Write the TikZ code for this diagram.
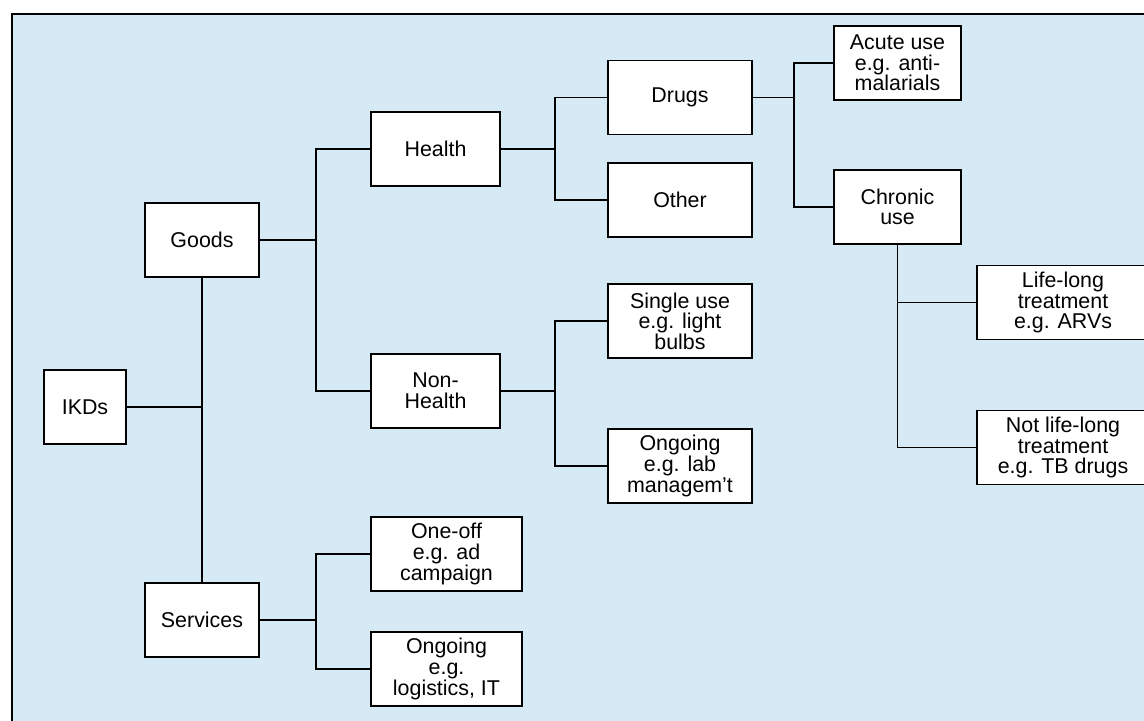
\documentclass[tikz,border=0pt]{standalone}
\usepackage{fontspec}
\setmainfont{Liberation Sans}
\usetikzlibrary{positioning}
\definecolor{panelblue}{RGB}{214,234,245}

\begin{document}
\begin{tikzpicture}
	[x=0.5pt,y=-0.5pt,
		treebox/.style={rectangle, draw=black, fill=white, line width=0.9pt, minimum height=37pt, align=center, inner sep=1pt, font=\fontsize{10.7}{10.3}\selectfont},
		smallbox/.style={treebox, minimum width=57pt},
		midbox/.style={treebox, minimum width=64.5pt},
		widebox/.style={treebox, minimum width=72pt},
		leafbox/.style={treebox, minimum width=86pt},
		branch/.style={line width=0.85pt, draw=black},
	]
	\useasboundingbox (0,0) rectangle (1144,720);
	\clip (0,0) rectangle (1144,720);
	\draw[fill=panelblue, line width=0.9pt] (12,14) rectangle (1170,750);

	\node[treebox, minimum width=41pt] (ikds) at(85,407) {IKDs};
	\node[smallbox] (goods) at(202,240) {Goods};
	\node[smallbox] (services) at(202,620) {Services};

	\node[midbox] (health) at(435.5,149) {Health};
	\node[midbox] (nonhealth) at(435.5,391) {Non-\\Health};
	\node[treebox, minimum width=75.5pt] (oneoff) at(446.5,554) {One-off\\e.g. ad\\campaign};
	\node[treebox, minimum width=75.5pt] (ongoingsrv) at(446.5,669) {Ongoing\\e.g.\\logistics, IT};

	\node[widebox] (drugs) at(680,97.5) {Drugs};
	\node[widebox] (other) at(680,200) {Other};
	\node[widebox] (singleuse) at(680,321) {Single use\\e.g. light\\bulbs};
	\node[widebox] (ongoinglab) at(680,466) {Ongoing\\e.g. lab\\managem'{}t};

	\node[treebox, minimum width=63.5pt] (acute) at(897.5,63) {Acute use\\e.g. anti-\\malarials};
	\node[treebox, minimum width=63.5pt] (chronic) at(897.5,207) {Chronic\\use};

	\node[leafbox] (lifelong) at(1063,302.5) {Life-long\\treatment\\e.g. ARVs};
	\node[leafbox] (notlifelong) at(1063,447.5) {Not life-long\\treatment\\e.g. TB drugs};

	\draw[branch] (goods.south) -- (services.north);
	\draw[branch] (ikds.east) -- (ikds.east -| goods.south);

	\draw[branch] (goods.east) -- ++(56,0) |- (health.west);
	\draw[branch] (goods.east) -- ++(56,0) |- (nonhealth.west);
	\draw[branch] (services.east) -- ++(56,0) |- (oneoff.west);
	\draw[branch] (services.east) -- ++(56,0) |- (ongoingsrv.west);

	\draw[branch] (health.east) -- ++(54,0) |- (drugs.west);
	\draw[branch] (health.east) -- ++(54,0) |- (other.west);
	\draw[branch] (nonhealth.east) -- ++(54,0) |- (singleuse.west);
	\draw[branch] (nonhealth.east) -- ++(54,0) |- (ongoinglab.west);

	\draw[branch] (drugs.east) -- ++(41,0) |- (acute.west);
	\draw[branch] (drugs.east) -- ++(41,0) |- (chronic.west);

	\draw[branch] (chronic.south) |- (lifelong.west);
	\draw[branch] (chronic.south) |- (notlifelong.west);

\end{tikzpicture}
\end{document}
